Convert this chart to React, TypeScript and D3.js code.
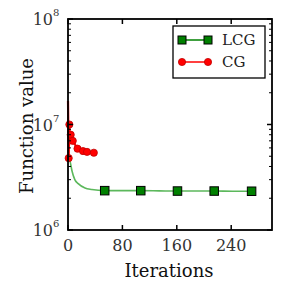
import React from "react";
import * as d3 from "d3";

const lcgIter = [0, 1, 3, 6, 10, 15, 25, 35, 54, 80, 107, 134, 161, 188, 215, 242, 270];
const lcgVal = [1.67e7, 5.0e6, 4.5e6, 3.6e6, 3.0e6, 2.75e6, 2.5e6, 2.42e6, 2.36e6, 2.36e6, 2.36e6, 2.35e6, 2.34e6, 2.34e6, 2.34e6, 2.33e6, 2.33e6];
const lcgMarkIter = [54, 107, 161, 215, 270];

const cgIter = [0, 1, 2, 3, 4, 5, 7, 14, 22, 28, 38];
const cgVal = [1.67e7, 4.8e6, 1.0e7, 6.5e6, 8.0e6, 7.2e6, 7.0e6, 5.9e6, 5.6e6, 5.5e6, 5.4e6];
const cgMarkIter = [1, 2, 4, 7, 14, 22, 28, 38];

const xTicks = [0, 80, 160, 240];
const yMajor = [1e6, 1e7, 1e8];
const legendLabels = ["LCG", "CG"];

const FONT = "'DejaVu Serif', serif";

export default function App() {
  const left = 68, right = 272, top = 19, bottom = 230;
  const x = d3.scaleLinear().domain([0, 300]).range([left, right]);
  const y = d3.scaleLog().domain([1e6, 1e8]).range([bottom, top]);

  const minor: number[] = [];
  for (let d = 1e6; d < 1e8; d *= 10) for (let k = 2; k <= 9; k++) minor.push(d * k);

  const lcgPath = d3.line<[number, number]>().x(d => x(d[0])).y(d => y(d[1])).curve(d3.curveMonotoneX)(
    lcgIter.map((it, i) => [it, lcgVal[i]] as [number, number])
  );
  const cgPath = d3.line<[number, number]>().x(d => x(d[0])).y(d => y(d[1]))(
    cgIter.map((it, i) => [it, cgVal[i]] as [number, number])
  );
  const valAt = (iters: number[], vals: number[], it: number) => vals[iters.indexOf(it)];

  const green = "#008000";
  const lineGreen = "#5cb85c";
  const red = "#ff0000";
  const sq = 8.5;

  return (
    <svg width={282} height={291} style={{ position: "absolute", left: 0, top: 0, background: "#fff" }}>
      <path d={lcgPath || ""} fill="none" stroke={lineGreen} strokeWidth={1.6} />
      {lcgMarkIter.map((it, i) => (
        <rect key={"l" + i} x={x(it) - sq / 2} y={y(valAt(lcgIter, lcgVal, it)) - sq / 2} width={sq} height={sq}
          fill={green} stroke="#000" strokeWidth={1} />
      ))}
      <path d={cgPath || ""} fill="none" stroke={red} strokeWidth={2.2} />
      {cgMarkIter.map((it, i) => (
        <circle key={"c" + i} cx={x(it)} cy={y(valAt(cgIter, cgVal, it))} r={3.6}
          fill={red} stroke="#c00000" strokeWidth={0.8} />
      ))}

      <rect x={left} y={top} width={right - left} height={bottom - top} fill="none" stroke="#000" strokeWidth={1.8} />

      {yMajor.map((v, i) => (
        <g key={"ym" + i}>
          <line x1={left} x2={left + 5} y1={y(v)} y2={y(v)} stroke="#000" strokeWidth={1.5} />
          <line x1={right} x2={right - 5} y1={y(v)} y2={y(v)} stroke="#000" strokeWidth={1.5} />
          <text x={53} y={y(v) + 6} textAnchor="end" fontFamily={FONT} fontSize={16} fill="#333">
            10
          </text>
          <text x={53} y={y(v) - 3} textAnchor="start" fontFamily={FONT} fontSize={10} fill="#333">
            {Math.round(Math.log10(v))}
          </text>
        </g>
      ))}
      {minor.map((v, i) => (
        <g key={"yn" + i}>
          <line x1={left} x2={left + 3} y1={y(v)} y2={y(v)} stroke="#000" strokeWidth={1} />
          <line x1={right} x2={right - 3} y1={y(v)} y2={y(v)} stroke="#000" strokeWidth={1} />
        </g>
      ))}

      {xTicks.map((t, i) => (
        <g key={"x" + i}>
          <line x1={x(t)} x2={x(t)} y1={bottom} y2={bottom - 5} stroke="#000" strokeWidth={1.5} />
          <line x1={x(t)} x2={x(t)} y1={top} y2={top + 5} stroke="#000" strokeWidth={1.5} />
          <text x={x(t)} y={251} textAnchor="middle" fontFamily={FONT} fontSize={16} fill="#333">
            {t}
          </text>
        </g>
      ))}

      <text x={169} y={277} textAnchor="middle" fontFamily={FONT} fontSize={18} fill="#111">
        Iterations
      </text>
      <text transform={`translate(33,126) rotate(-90)`} textAnchor="middle" fontFamily={FONT}
        fontSize={18} fill="#111">
        Function value
      </text>

      <rect x={173} y={26} width={92} height={52} fill="#fff" stroke="#000" strokeWidth={1.3} />
      {legendLabels.map((lab, i) => {
        const ly = 40 + i * 22;
        return (
          <g key={"lg" + i}>
            <line x1={182} x2={208} y1={ly} y2={ly} stroke={i === 0 ? green : red} strokeWidth={1.5} />
            {i === 0 ? (
              <>
                <rect x={182 - 4} y={ly - 4} width={8} height={8} fill={green} stroke="#000" strokeWidth={1} />
                <rect x={208 - 4} y={ly - 4} width={8} height={8} fill={green} stroke="#000" strokeWidth={1} />
              </>
            ) : (
              <>
                <circle cx={182} cy={ly} r={3.6} fill={red} stroke="#c00000" strokeWidth={0.8} />
                <circle cx={208} cy={ly} r={3.6} fill={red} stroke="#c00000" strokeWidth={0.8} />
              </>
            )}
            <text x={222} y={ly + 5} fontFamily={FONT} fontSize={15} fill="#222">
              {lab}
            </text>
          </g>
        );
      })}
    </svg>
  );
}
